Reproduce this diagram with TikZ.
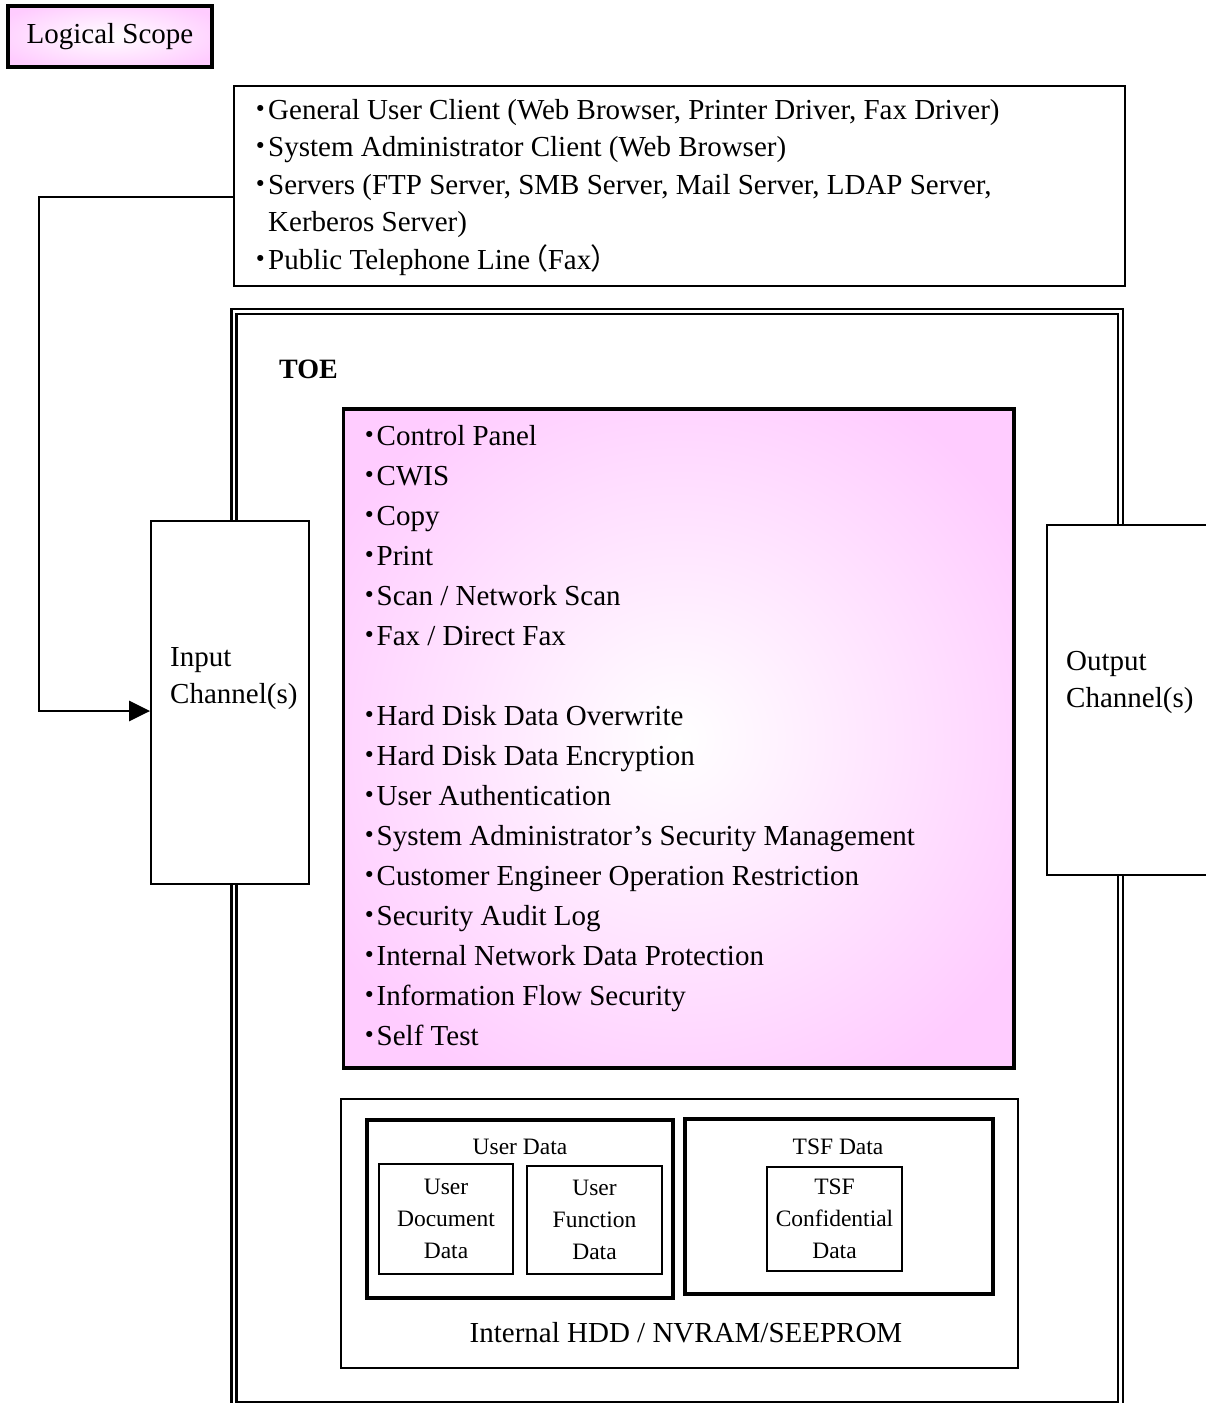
\documentclass[tikz,border=0pt]{standalone}
\usepackage{fontspec}
\setmainfont{Liberation Serif}
\newfontfamily\cjk[RawFeature=+palt]{Noto Sans CJK JP}
\usetikzlibrary{arrows.meta}

\definecolor{scopepink}{RGB}{255,204,255}
\pgfdeclareradialshading{pinkglow}{\pgfpoint{0bp}{0bp}}{color(0bp)=(white); color(30bp)=(scopepink); color(50bp)=(scopepink)}
\newcommand{\bul}{{\cjk\bfseries ･}}

\begin{document}
\begin{tikzpicture}[x=1pt,y=-1pt,
		every node/.style={inner sep=0pt, font=\fontsize{29}{37.5}\selectfont},
		thinbox/.style={draw, line width=1.8pt, fill=white},
		thickbox/.style={draw, line width=3.6pt, fill=white},
		glowbox/.style={draw, line width=3.6pt, shading=pinkglow},
		toeframe/.style={draw, line width=2.2pt, double, double distance=2.8pt},
		listtext/.style={anchor=north west, align=left},
		smalltext/.style={font=\fontsize{23.5}{32}\selectfont, align=center},
		feed/.style={line width=2.6pt, -{Triangle[length=21pt,width=20pt]}}]
		\useasboundingbox (0,0) rectangle (1205,1403);
		\node[glowbox, minimum width=204pt, minimum height=61pt] (scope) at (110,36.5) {Logical Scope};
		% outside the TOE
		\node[thinbox, minimum width=891pt, minimum height=200pt] (env) at (679.5,186) {};
		\node[listtext] (envlist) at (253.5,99) {\bul General User Client (Web Browser, Printer Driver, Fax Driver)\\
			\bul System Administrator Client (Web Browser)\\
			\bul Servers (FTP Server, SMB Server, Mail Server, LDAP Server,\\
			\phantom{\bul}Kerberos Server)\\
			\bul Public Telephone Line\kern3pt{\cjk （}Fax{\cjk ）}};
		% TOE
		\node[toeframe, minimum width=886.5pt, minimum height=1093pt] (toe) at (677.25,858) {};
		\node[anchor=base west, font=\bfseries\fontsize{28}{34}\selectfont] (toelbl) at (279,378) {TOE};
		\node[thinbox, minimum width=158pt, minimum height=363pt] (inch) at (230,702.5) {};
		\node[listtext] (inlbl) at (170,647) {Input\\Channel(s)};
		\node[thinbox, minimum width=178pt, minimum height=350pt] (outch) at (1136,700) {};
		\node[listtext] (outlbl) at (1066,651) {Output\\Channel(s)};
		\node[glowbox, minimum width=670.5pt, minimum height=659pt] (tsf) at (678.75,738.5) {};
		\node[listtext, font=\fontsize{29}{40}\selectfont] (tsflist) at (362,425) {\bul Control Panel\\
			\bul CWIS\\
			\bul Copy\\
			\bul Print\\
			\bul Scan / Network Scan\\
			\bul Fax / Direct Fax\\[40pt]
			\bul Hard Disk Data Overwrite\\
			\bul Hard Disk Data Encryption\\
			\bul User Authentication\\
			\bul System Administrator's Security Management\\
			\bul Customer Engineer Operation Restriction\\
			\bul Security Audit Log\\
			\bul Internal Network Data Protection\\
			\bul Information Flow Security\\
			\bul Self Test};
		% storage
		\node[thinbox, minimum width=677pt, minimum height=269pt] (hdd) at (679.5,1233.5) {};
		\node (hddlbl) at (686,1333) {Internal HDD / NVRAM/SEEPROM};
		\node[thickbox, minimum width=306pt, minimum height=178pt] (udata) at (520,1209) {};
		\node[smalltext] (udatalbl) at (520,1147) {User Data};
		\node[thinbox, smalltext, minimum width=134pt, minimum height=110pt] (udoc) at (446,1219) {User\\Document\\Data};
		\node[thinbox, smalltext, minimum width=135pt, minimum height=108pt] (ufunc) at (594.5,1220) {User\\Function\\Data};
		\node[thickbox, minimum width=308pt, minimum height=175pt] (tdata) at (839,1206.5) {};
		\node[smalltext] (tdatalbl) at (838,1147) {TSF Data};
		\node[thinbox, smalltext, minimum width=135pt, minimum height=104pt] (tconf) at (834.5,1219) {TSF\\Confidential\\Data};
		% external entities feed the input channel
		\coordinate (turn) at (39,197);
		\draw[feed] ([yshift=-11pt]env.west) -- (turn) |- ([yshift=-8.5pt]inch.west);
\end{tikzpicture}
\end{document}
